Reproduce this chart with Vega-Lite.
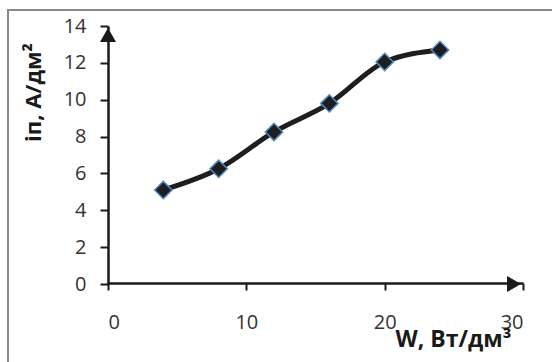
{
  "$schema": "https://vega.github.io/schema/vega-lite/v6.json",
  "autosize": "none",
  "padding": {"left": 8, "top": 10, "right": 0, "bottom": 0},
  "width": 560,
  "height": 360,
  "background": "white",
  "config": {
    "view": {"stroke": "#8a8a8a", "strokeWidth": 2},
    "font": "Open Sans"
  },
  "datasets": {
    "series": [
      {"W": 4, "i": 5.1},
      {"W": 8, "i": 6.25},
      {"W": 12, "i": 8.25},
      {"W": 16, "i": 9.8},
      {"W": 20, "i": 12.05},
      {"W": 24, "i": 12.7}
    ],
    "yend": [{"W": 0, "i": 14}],
    "xend": [{"W": 30, "i": 0}]
  },
  "layer": [
    {
      "data": {"name": "series"},
      "mark": {"type": "line", "interpolate": "monotone", "color": "#1e1e1e", "strokeWidth": 5},
      "encoding": {
        "x": {
          "field": "W", "type": "quantitative",
          "scale": {"domain": [0, 30], "range": [100, 515], "nice": false, "zero": false},
          "axis": {
            "orient": "bottom", "offset": -87, "values": [0, 10, 20, 30], "grid": false,
            "domainColor": "#1a1a1a", "domainWidth": 2.5,
            "tickColor": "#1a1a1a", "tickWidth": 2, "tickSize": 7,
            "labelFontSize": 20, "labelColor": "#333333", "labelPadding": 22, "labelFont": "Open Sans",
            "title": "W, Вт/дм³", "titleFontSize": 23, "titleFontWeight": "bold", "titleColor": "#1a1a1a",
            "titleFont": "Open Sans",
            "titleX": 445, "titleY": 56, "titleAlign": "center", "titleBaseline": "middle"
          }
        },
        "y": {
          "field": "i", "type": "quantitative",
          "scale": {"domain": [0, 14], "range": [274, 16], "nice": false, "zero": false},
          "axis": {
            "orient": "left", "offset": -100, "values": [0, 2, 4, 6, 8, 10, 12, 14], "grid": false,
            "domainColor": "#1a1a1a", "domainWidth": 2.5,
            "tickColor": "#1a1a1a", "tickWidth": 2, "tickSize": 8,
            "labelFontSize": 20, "labelColor": "#333333", "labelPadding": 14, "labelFont": "Open Sans",
            "title": "iп, А/дм²", "titleFontSize": 22, "titleFontWeight": "bold", "titleColor": "#1a1a1a",
            "titleFont": "Open Sans",
            "titleAngle": -90, "titleX": -75, "titleY": 82, "titleAlign": "center", "titleBaseline": "middle"
          }
        }
      }
    },
    {
      "data": {"name": "series"},
      "mark": {"type": "point", "shape": "diamond", "filled": true, "fill": "#1e1e1e", "stroke": "#4f88c6", "strokeWidth": 1.5, "size": 300, "opacity": 1},
      "encoding": {
        "x": {"field": "W", "type": "quantitative"},
        "y": {"field": "i", "type": "quantitative"}
      }
    },
    {
      "data": {"name": "yend"},
      "mark": {"type": "point", "shape": "triangle-up", "filled": true, "color": "#1a1a1a", "size": 260, "opacity": 1, "yOffset": 9},
      "encoding": {
        "x": {"field": "W", "type": "quantitative"},
        "y": {"field": "i", "type": "quantitative"}
      }
    },
    {
      "data": {"name": "xend"},
      "mark": {"type": "point", "shape": "triangle-right", "filled": true, "color": "#1a1a1a", "size": 260, "opacity": 1, "xOffset": -9},
      "encoding": {
        "x": {"field": "W", "type": "quantitative"},
        "y": {"field": "i", "type": "quantitative"}
      }
    }
  ]
}
